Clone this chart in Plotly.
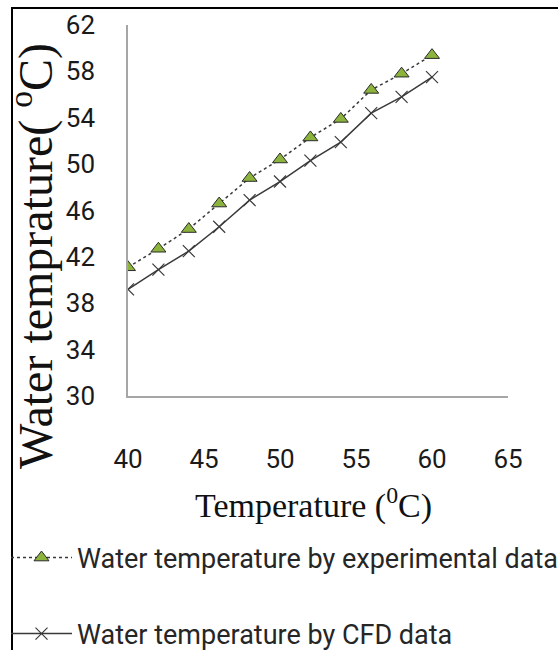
import plotly.graph_objects as go

temperature = [40, 42, 44, 46, 48, 50, 52, 54, 56, 58, 60]
exp_water = [41.1, 42.7, 44.4, 46.6, 48.8, 50.4, 52.3, 53.9, 56.4, 57.8, 59.4]
cfd_water = [39.2, 40.9, 42.5, 44.6, 46.9, 48.5, 50.3, 51.9, 54.4, 55.8, 57.5]

x_ticks = [40, 45, 50, 55, 60, 65]
y_ticks = [30, 34, 38, 42, 46, 50, 54, 58, 62]

name_exp = "Water temperature by experimental data"
name_cfd = "Water temperature by CFD data"

W, H = 558, 650
L, R, T, B = 128, 50, 25, 254
pw, ph = W - L - R, H - T - B

def px(xp):
    return (xp - L) / pw

def py(yp):
    return (H - B - yp) / ph

sans = "Roboto, sans-serif"
serif = "Liberation Serif, Times New Roman, serif"

fig = go.Figure()
fig.add_trace(go.Scatter(
    x=temperature, y=exp_water, mode="lines+markers", name=name_exp,
    line=dict(color="#3a3a3a", width=1.5, dash="dot"),
    marker=dict(symbol="triangle-up", size=13, color="#8cb43c",
                line=dict(color="#2a2a2a", width=1)),
    legend="legend", showlegend=True,
))
fig.add_trace(go.Scatter(
    x=temperature, y=cfd_water, mode="lines+markers", name=name_cfd,
    line=dict(color="#3a3a3a", width=1.5),
    marker=dict(symbol="x-thin", size=12, color="#3a3a3a",
                line=dict(color="#3a3a3a", width=1.2)),
    legend="legend2", showlegend=True,
))

axis_line = "#a6a6a6"
fig.update_xaxes(
    range=[40, 65], tickvals=x_ticks, ticktext=[str(v) for v in x_ticks],
    showgrid=False, zeroline=False, showline=True, linecolor=axis_line,
    linewidth=1.5, ticks="", ticklabelstandoff=39, automargin=False,
    tickfont=dict(family=sans, size=26, color="#1a1a1a"),
)
fig.update_yaxes(
    range=[30, 62], tickvals=y_ticks, ticktext=[str(v) for v in y_ticks],
    showgrid=False, zeroline=False, showline=True, linecolor=axis_line,
    linewidth=1.5, ticks="", ticklabelstandoff=26, automargin=False,
    tickfont=dict(family=sans, size=26, color="#1a1a1a"),
)

fig.add_annotation(
    text="Water temprature( <sup>o</sup>C)", xref="paper", yref="paper",
    x=px(32), y=py(256), textangle=-90, showarrow=False,
    xanchor="center", yanchor="middle",
    font=dict(family=serif, size=48, color="#111111"),
)
fig.add_annotation(
    text="Temperature (<sup>0</sup>C)", xref="paper", yref="paper",
    x=px(313), y=py(503), showarrow=False,
    xanchor="center", yanchor="middle",
    font=dict(family=serif, size=34, color="#111111"),
)

# outer frame (left and top edges visible)
fig.add_shape(type="line", xref="paper", yref="paper",
              x0=px(12), y0=py(8), x1=px(12), y1=py(660),
              line=dict(color="#000000", width=2))
fig.add_shape(type="line", xref="paper", yref="paper",
              x0=px(11), y0=py(8), x1=px(570), y1=py(8),
              line=dict(color="#000000", width=2))

legend_font = dict(family=sans, size=27, color="#262626")
fig.update_layout(
    width=W, height=H, showlegend=True,
    margin=dict(l=L, r=R, t=T, b=B, autoexpand=False),
    paper_bgcolor="white", plot_bgcolor="white",
    legend=dict(xref="container", yref="container", x=6 / W, y=1 - 558 / H,
                xanchor="left", yanchor="middle", font=legend_font,
                itemwidth=61, bgcolor="rgba(0,0,0,0)", borderwidth=0),
    legend2=dict(xref="container", yref="container", x=6 / W, y=1 - 634 / H,
                 xanchor="left", yanchor="middle", font=legend_font,
                 itemwidth=61, bgcolor="rgba(0,0,0,0)", borderwidth=0),
)

fig.write_html("out.html")
